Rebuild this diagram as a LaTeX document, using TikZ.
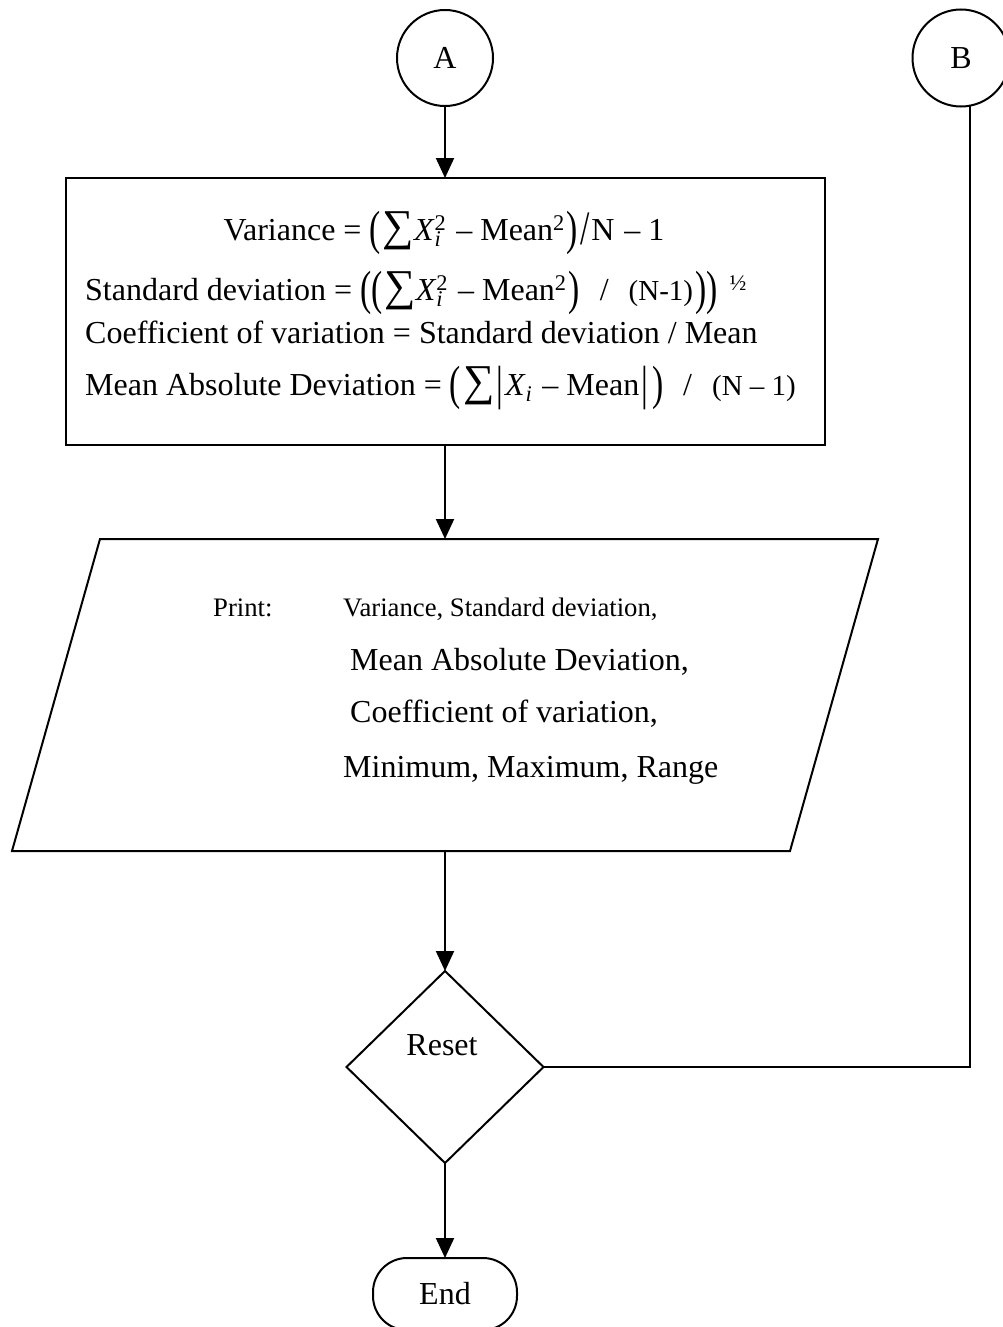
\documentclass[tikz,border=0pt]{standalone}
\usepackage{fontspec}
\setmainfont{Liberation Serif}
\usetikzlibrary{shapes.geometric,arrows.meta}

% type sizes (one unit = 1pt, picture laid out on a 1003 x 1327 grid)
\newcommand\bigsz{\fontsize{32}{38}\selectfont}
\newcommand\smallsz{\fontsize{26.7}{32}\selectfont}
\newcommand\midsz{\fontsize{29}{32}\selectfont}
% pieces of the formulas, all set in the text font
\newcommand\tall[1]{\raisebox{-0.13em}{\scalebox{1.05}[1.5]{#1}}}
\newcommand\lp{\tall{(}\hspace{2pt}}
\newcommand\rp{\hspace{2pt}\tall{)}}
\newcommand\vbar{\hspace{2pt}\tall{|}\hspace{2pt}}
\newcommand\tslash{\hspace{2pt}\tall{/}\hspace{2pt}}
\newcommand\bigsum{{\fontsize{44}{44}\selectfont ∑}}
\newcommand\Xsq{\textit{X}\rlap{\textsubscript{\textit{i}}}\textsuperscript{2}}
\newcommand\Xsub{\textit{X}\textsubscript{\textit{i}}}
\newcommand\wslash{\hspace{20pt}/\hspace{20pt}}
\newcommand\minus{\hspace{10pt}–\hspace{8pt}}

\tikzset{
  every node/.style={font=\bigsz},
  shape line/.style={draw, line width=2pt},
  flow/.style={line width=2pt, -{Triangle[length=20pt,width=18pt]}},
  link/.style={line width=2pt},
}

\begin{document}
\begin{tikzpicture}[x=1pt,y=-1pt]
\useasboundingbox (0,0) rectangle (1003,1327);

% connectors
\node[shape line, circle, minimum size=96pt, inner sep=0pt, outer sep=0pt] (A) at (445,58) {A};
\node[shape line, circle, minimum size=97pt, inner sep=0pt, outer sep=0pt] (B) at (961,58) {B};

% computation box
\node[shape line, rectangle, minimum width=759pt, minimum height=267pt, inner sep=0pt, outer sep=0pt] (box) at (445.5,311.5) {};
\node[anchor=base, inner sep=0pt] (f1) at (444,240)
  {Variance = \lp\bigsum\Xsq\minus Mean\textsuperscript{2}\rp\tslash N\minus 1};
\node[anchor=base west, inner sep=0pt] (f2) at (85,300)
  {Standard deviation = \tall{(}\lp\bigsum\Xsq\minus Mean\textsuperscript{2}\rp\wslash{\midsz (N-1)}\rp\tall{)}\hspace{12pt}\textsuperscript{½}};
\node[anchor=base west, inner sep=0pt] (f3) at (85,343)
  {Coefficient of variation = Standard deviation / Mean};
\node[anchor=base west, inner sep=0pt] (f4) at (85,395)
  {Mean Absolute Deviation = \lp\bigsum\vbar\Xsub\minus Mean\vbar\rp\wslash{\midsz (N – 1)}};

% output parallelogram
\draw[link, line join=miter] (100,539) -- (878,539) -- (790,851) -- (12,851) -- cycle;
\coordinate (ptop) at (445,539);
\coordinate (pbot) at (445,851);
\node[anchor=base west, inner sep=0pt, font=\smallsz] (p0) at (213,616) {Print:};
\node[anchor=base west, inner sep=0pt, font=\smallsz] (p1) at (343,616) {Variance, Standard deviation,};
\node[anchor=base west, inner sep=0pt] (p2) at (350,670) {Mean Absolute Deviation,};
\node[anchor=base west, inner sep=0pt] (p3) at (350,722) {Coefficient of variation,};
\node[anchor=base west, inner sep=0pt] (p4) at (343,777) {Minimum, Maximum, Range};

% decision
\node[shape line, diamond, minimum width=197pt, minimum height=192pt, inner sep=0pt, outer sep=0pt] (reset) at (445,1067) {};
\node (resetlbl) at (442,1045) {Reset};

% terminator
\node[shape line, rectangle, rounded corners=34pt, minimum width=144pt, minimum height=72pt, outer sep=0pt] (end) at (445,1294) {End};

% flow lines
\draw[flow] (A.south) -- (A.south |- box.north);
\draw[flow] (box.south -| ptop) -- (ptop);
\draw[flow] (pbot) -- (reset.north);
\draw[flow] (reset.south) -- (end.north);
\draw[link] (B.-79) |- (reset.east);
\end{tikzpicture}
\end{document}
